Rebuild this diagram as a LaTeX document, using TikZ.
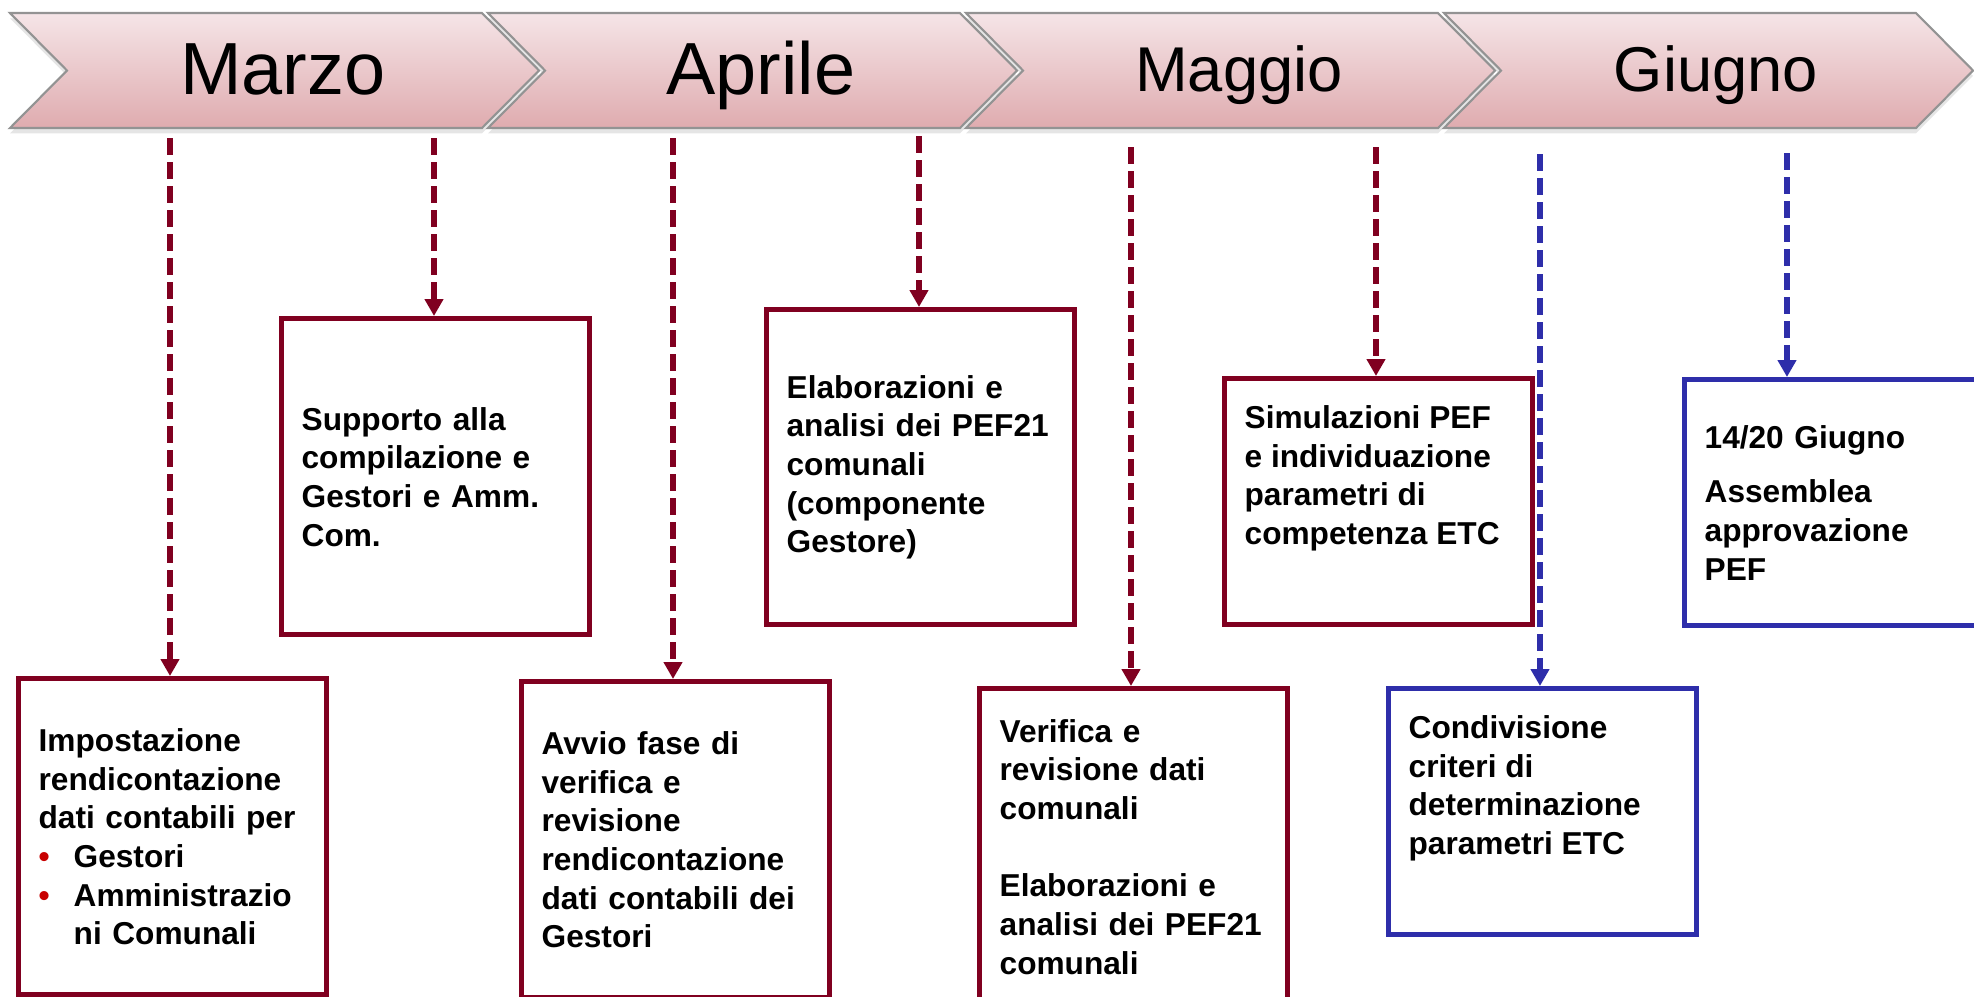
\documentclass[tikz,border=0pt]{standalone}
\usepackage{fontspec}
\setmainfont{Liberation Sans}
\usetikzlibrary{arrows.meta,shadows}
\definecolor{boxred}{RGB}{128,0,32}
\definecolor{boxblue}{RGB}{46,46,170}
\definecolor{dotred}{RGB}{200,0,0}
\definecolor{chevtop}{RGB}{245,229,231}
\definecolor{chevbot}{RGB}{223,171,175}
\tikzset{
    chevron/.style={top color=chevtop, bottom color=chevbot, draw=gray!85, line width=0.6pt,
        drop shadow={shadow xshift=0pt, shadow yshift=-1.5pt, opacity=0.2}},
    month/.style={anchor=base, font=\fontsize{21}{25}\selectfont},
    smallmonth/.style={anchor=base, font=\fontsize{18}{22}\selectfont},
    boxbase/.style={draw, line width=1.5pt, fill=white, inner sep=0pt, anchor=north west,
        minimum width=3.08cm, font=\bfseries\fontsize{9}{11}\selectfont},
    redbox/.style={boxbase, draw=boxred},
    bluebox/.style={boxbase, draw=boxblue},
    midtext/.style={text width=2.68cm, align=left},
    link/.style={line width=1.7pt, dash pattern=on 0.17cm off 0.07cm,
        -{Triangle[length=0.17cm, width=0.18cm]}},
    redlink/.style={link, boxred},
    bluelink/.style={link, boxblue}
}
\newcommand{\dotitem}{\makebox[0.35cm][l]{\textcolor{dotred}{\textbullet}}}
\begin{document}
\begin{tikzpicture}[x=0.01cm, y=-0.01cm]
            \path[use as bounding box, fill=white] (0,0) rectangle (1974,996);

            \path[chevron] (10,13) -- (482,13) -- (539,70.5) -- (482,128) -- (10,128) -- (67,70.5) -- cycle;
            \path[chevron] (488,13) -- (960,13) -- (1017,70.5) -- (960,128) -- (488,128) -- (545,70.5) -- cycle;
            \path[chevron] (966,13) -- (1438,13) -- (1495,70.5) -- (1438,128) -- (966,128) -- (1023,70.5) -- cycle;
            \path[chevron] (1444,13) -- (1916,13) -- (1973,70.5) -- (1916,128) -- (1444,128) -- (1501,70.5) -- cycle;
            \node[month] (mar) at (283,94) {Marzo};
            \node[month] (apr) at (761,94) {Aprile};
            \node[smallmonth] (mag) at (1239,91) {Maggio};
            \node[smallmonth] (giu) at (1716,91) {Giugno};

            \node[redbox, midtext, minimum height=3.16cm] (b1) at (16,676) {Impostazione\\ rendicontazione\\ dati contabili per\\ \dotitem Gestori\\ \dotitem Amministrazio\\ \hspace*{0.35cm}ni Comunali};
            \node[redbox, midtext, minimum height=3.16cm] (b2) at (279,316) {Supporto alla\\ compilazione e\\ Gestori e Amm.\\ Com.};
            \node[redbox, midtext, minimum height=3.16cm] (b3) at (519,679) {Avvio fase di\\ verifica e\\ revisione\\ rendicontazione\\ dati contabili dei\\ Gestori};
            \node[redbox, midtext, minimum height=3.15cm] (b4) at (764,307) {Elaborazioni e\\ analisi dei PEF21\\ comunali\\ (componente\\ Gestore)};
            \node[redbox, midtext, minimum height=3.16cm] (b5) at (977,686) {Verifica e\\ revisione dati\\ comunali\\[11pt] Elaborazioni e\\ analisi dei PEF21\\ comunali};
            \node[redbox, minimum height=2.46cm] (b6) at (1222,376) {\parbox[c][1.92cm][t]{2.68cm}{\raggedright Simulazioni PEF\\ e individuazione\\ parametri di\\ competenza ETC}};
            \node[bluebox, minimum height=2.46cm] (b7) at (1386,686) {\parbox[c][1.92cm][t]{2.68cm}{\raggedright Condivisione\\ criteri di\\ determinazione\\ parametri ETC}};
            \node[bluebox, midtext, minimum height=2.46cm] (b8) at (1682,377) {14/20 Giugno\\[0.16cm] Assemblea\\ approvazione\\ PEF};

            \coordinate (s1) at (170,138);
            \coordinate (s2) at (434,138);
            \coordinate (s3) at (673,138);
            \coordinate (s4) at (919,136);
            \coordinate (s5) at (1131,147);
            \coordinate (s6) at (1376,147);
            \coordinate (s7) at (1540,154);
            \coordinate (s8) at (1787,153);
            \draw[redlink] (s1) -- (s1 |- b1.north);
            \draw[redlink] (s2) -- (s2 |- b2.north);
            \draw[redlink] (s3) -- (s3 |- b3.north);
            \draw[redlink] (s4) -- (s4 |- b4.north);
            \draw[redlink] (s5) -- (s5 |- b5.north);
            \draw[redlink] (s6) -- (s6 |- b6.north);
            \draw[bluelink] (s7) -- (s7 |- b7.north);
            \draw[bluelink] (s8) -- (s8 |- b8.north);
\end{tikzpicture}
\end{document}
